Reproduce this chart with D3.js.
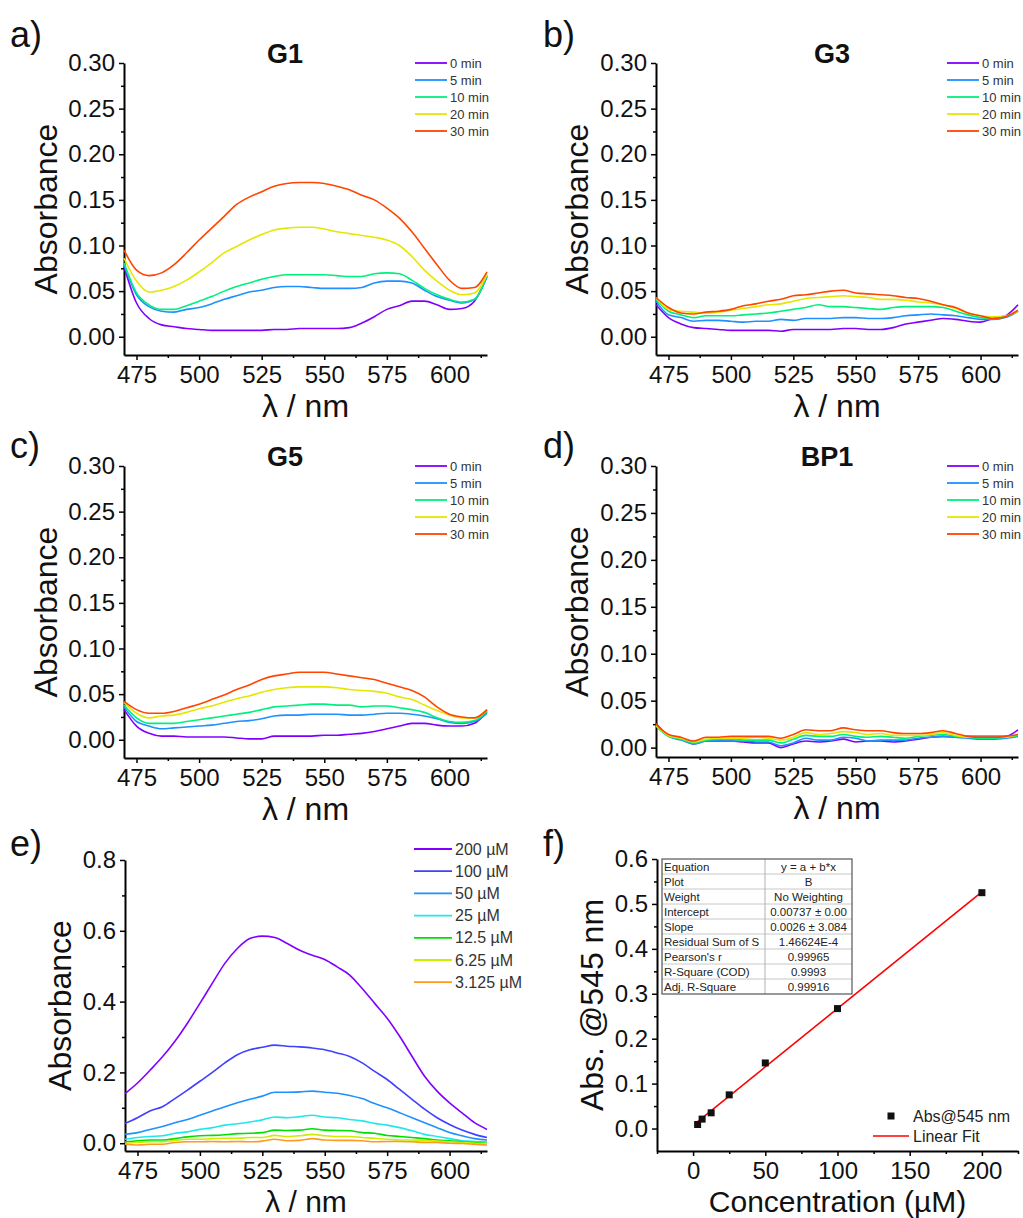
<!DOCTYPE html>
<html>
<head>
<meta charset="utf-8">
<script src="https://cdn.jsdelivr.net/npm/d3@7"></script>
<style>
	body { margin: 0; background: #fff; }
	svg { font-family: "Liberation Sans", Arial, sans-serif; }
	.axis path, .axis line { stroke: #000; }
	.axis text { fill: #111; }
</style>
</head>
<body>
<svg id="chart" width="1023" height="1218"></svg>
<script>
// wavelength grid (nm) shared by all spectra
const wavelengths = [470, 475, 480, 485, 490, 495, 500, 505, 510, 515, 520, 525, 530, 535, 540, 545, 550, 555, 560, 565, 570, 575, 580, 585, 590, 595, 600, 605, 610, 615];

const timeLabels = ["0 min", "5 min", "10 min", "20 min", "30 min"];
const timeColors = ["#8000ff", "#1e90ff", "#00f07c", "#e6e600", "#ff4500"];

// G1
const g1_0 = [0.077, 0.037, 0.020, 0.013, 0.011, 0.009, 0.008, 0.007, 0.007, 0.007, 0.007, 0.007, 0.008, 0.008, 0.009, 0.009, 0.009, 0.009, 0.010, 0.015, 0.022, 0.030, 0.034, 0.039, 0.039, 0.035, 0.030, 0.031, 0.039, 0.066];
const g1_5 = [0.079, 0.046, 0.033, 0.028, 0.027, 0.030, 0.032, 0.036, 0.041, 0.045, 0.049, 0.051, 0.054, 0.055, 0.055, 0.054, 0.053, 0.053, 0.053, 0.054, 0.059, 0.061, 0.061, 0.059, 0.051, 0.044, 0.040, 0.037, 0.041, 0.066];
const g1_10 = [0.081, 0.048, 0.035, 0.030, 0.030, 0.034, 0.039, 0.044, 0.050, 0.055, 0.059, 0.063, 0.066, 0.068, 0.068, 0.068, 0.068, 0.067, 0.066, 0.066, 0.069, 0.070, 0.069, 0.062, 0.053, 0.046, 0.041, 0.038, 0.041, 0.068];
const g1_20 = [0.086, 0.061, 0.049, 0.051, 0.055, 0.062, 0.071, 0.081, 0.092, 0.099, 0.106, 0.112, 0.117, 0.119, 0.120, 0.120, 0.118, 0.115, 0.113, 0.111, 0.109, 0.106, 0.100, 0.088, 0.073, 0.061, 0.051, 0.046, 0.048, 0.068];
const g1_30 = [0.095, 0.073, 0.067, 0.070, 0.079, 0.092, 0.106, 0.119, 0.132, 0.145, 0.153, 0.159, 0.165, 0.168, 0.169, 0.169, 0.168, 0.165, 0.161, 0.155, 0.150, 0.141, 0.130, 0.115, 0.097, 0.079, 0.062, 0.053, 0.054, 0.071];

// G3
const g3_0 = [0.035, 0.021, 0.014, 0.010, 0.009, 0.008, 0.007, 0.007, 0.007, 0.007, 0.006, 0.008, 0.008, 0.008, 0.008, 0.009, 0.009, 0.008, 0.008, 0.010, 0.014, 0.016, 0.018, 0.020, 0.019, 0.017, 0.016, 0.020, 0.023, 0.035];
const g3_5 = [0.039, 0.024, 0.021, 0.017, 0.018, 0.018, 0.017, 0.016, 0.017, 0.017, 0.019, 0.018, 0.020, 0.020, 0.020, 0.021, 0.021, 0.020, 0.020, 0.021, 0.023, 0.024, 0.025, 0.024, 0.023, 0.021, 0.019, 0.019, 0.021, 0.028];
const g3_10 = [0.041, 0.028, 0.024, 0.021, 0.023, 0.023, 0.023, 0.024, 0.025, 0.026, 0.028, 0.030, 0.032, 0.035, 0.033, 0.033, 0.032, 0.031, 0.030, 0.032, 0.033, 0.033, 0.033, 0.032, 0.028, 0.024, 0.021, 0.020, 0.022, 0.028];
const g3_20 = [0.043, 0.030, 0.028, 0.027, 0.026, 0.027, 0.029, 0.031, 0.033, 0.035, 0.036, 0.039, 0.042, 0.043, 0.044, 0.045, 0.044, 0.043, 0.041, 0.041, 0.040, 0.038, 0.037, 0.035, 0.031, 0.026, 0.023, 0.022, 0.023, 0.028];
const g3_30 = [0.043, 0.032, 0.026, 0.025, 0.027, 0.028, 0.030, 0.034, 0.036, 0.039, 0.041, 0.045, 0.046, 0.048, 0.050, 0.051, 0.048, 0.047, 0.046, 0.045, 0.043, 0.042, 0.039, 0.035, 0.032, 0.026, 0.023, 0.020, 0.022, 0.029];

// G5
const g5_0 = [0.033, 0.015, 0.007, 0.004, 0.004, 0.003, 0.003, 0.003, 0.003, 0.002, 0.001, 0.001, 0.004, 0.004, 0.004, 0.004, 0.005, 0.005, 0.006, 0.007, 0.009, 0.012, 0.015, 0.018, 0.018, 0.016, 0.015, 0.015, 0.018, 0.031];
const g5_5 = [0.036, 0.020, 0.015, 0.012, 0.013, 0.014, 0.015, 0.016, 0.018, 0.020, 0.021, 0.023, 0.026, 0.027, 0.027, 0.028, 0.028, 0.028, 0.027, 0.027, 0.028, 0.029, 0.029, 0.028, 0.026, 0.023, 0.019, 0.018, 0.020, 0.029];
const g5_10 = [0.038, 0.024, 0.018, 0.018, 0.018, 0.020, 0.022, 0.024, 0.026, 0.028, 0.030, 0.033, 0.036, 0.037, 0.038, 0.039, 0.039, 0.038, 0.038, 0.036, 0.037, 0.037, 0.035, 0.033, 0.030, 0.024, 0.020, 0.019, 0.021, 0.031];
const g5_20 = [0.041, 0.029, 0.024, 0.026, 0.027, 0.030, 0.034, 0.037, 0.041, 0.045, 0.048, 0.052, 0.055, 0.057, 0.058, 0.058, 0.058, 0.057, 0.055, 0.054, 0.053, 0.051, 0.047, 0.044, 0.038, 0.032, 0.027, 0.024, 0.024, 0.033];
const g5_30 = [0.042, 0.033, 0.029, 0.029, 0.031, 0.035, 0.039, 0.044, 0.049, 0.055, 0.060, 0.066, 0.070, 0.072, 0.074, 0.074, 0.074, 0.072, 0.070, 0.068, 0.066, 0.062, 0.058, 0.054, 0.047, 0.036, 0.028, 0.025, 0.024, 0.033];

// BP1
const bp1_0 = [0.026, 0.013, 0.010, 0.004, 0.007, 0.007, 0.007, 0.006, 0.005, 0.005, 0.000, 0.004, 0.007, 0.006, 0.007, 0.009, 0.006, 0.007, 0.007, 0.006, 0.007, 0.009, 0.011, 0.012, 0.011, 0.012, 0.012, 0.012, 0.012, 0.019];
const bp1_5 = [0.023, 0.012, 0.008, 0.004, 0.007, 0.008, 0.007, 0.007, 0.006, 0.006, 0.002, 0.005, 0.010, 0.008, 0.008, 0.011, 0.010, 0.007, 0.008, 0.008, 0.008, 0.010, 0.011, 0.012, 0.011, 0.010, 0.009, 0.009, 0.010, 0.012];
const bp1_10 = [0.023, 0.012, 0.009, 0.005, 0.008, 0.009, 0.009, 0.008, 0.008, 0.008, 0.005, 0.009, 0.013, 0.012, 0.012, 0.014, 0.012, 0.011, 0.012, 0.011, 0.010, 0.012, 0.013, 0.014, 0.012, 0.011, 0.010, 0.010, 0.011, 0.013];
const bp1_20 = [0.024, 0.013, 0.010, 0.006, 0.009, 0.010, 0.010, 0.010, 0.011, 0.010, 0.008, 0.011, 0.016, 0.014, 0.015, 0.017, 0.016, 0.014, 0.015, 0.013, 0.013, 0.013, 0.014, 0.016, 0.013, 0.011, 0.011, 0.011, 0.011, 0.014];
const bp1_30 = [0.025, 0.014, 0.011, 0.007, 0.011, 0.011, 0.012, 0.012, 0.012, 0.012, 0.010, 0.014, 0.019, 0.018, 0.018, 0.021, 0.019, 0.018, 0.018, 0.016, 0.015, 0.015, 0.016, 0.018, 0.015, 0.012, 0.011, 0.011, 0.012, 0.014];

// concentration series (panel e)
const concLabels = ["200 \u00b5M", "100 \u00b5M", "50 \u00b5M", "25 \u00b5M", "12.5 \u00b5M", "6.25 \u00b5M", "3.125 \u00b5M"];
const concColors = ["#8000ff", "#4040ff", "#1e90ff", "#20e8e8", "#00e000", "#ccee00", "#ff9922"];
const c200 = [0.140, 0.170, 0.206, 0.244, 0.288, 0.339, 0.395, 0.452, 0.508, 0.550, 0.578, 0.585, 0.581, 0.564, 0.545, 0.531, 0.519, 0.498, 0.475, 0.437, 0.395, 0.353, 0.302, 0.245, 0.189, 0.147, 0.114, 0.086, 0.058, 0.039];
const c100 = [0.056, 0.072, 0.091, 0.103, 0.126, 0.150, 0.175, 0.200, 0.227, 0.250, 0.264, 0.271, 0.277, 0.274, 0.272, 0.269, 0.264, 0.255, 0.245, 0.227, 0.203, 0.180, 0.152, 0.124, 0.096, 0.072, 0.053, 0.037, 0.025, 0.016];
const c50 = [0.025, 0.030, 0.039, 0.047, 0.058, 0.067, 0.079, 0.091, 0.103, 0.114, 0.124, 0.133, 0.144, 0.144, 0.145, 0.147, 0.144, 0.141, 0.135, 0.126, 0.112, 0.100, 0.086, 0.072, 0.058, 0.044, 0.030, 0.021, 0.013, 0.009];
const c25 = [0.011, 0.016, 0.019, 0.021, 0.028, 0.032, 0.039, 0.044, 0.051, 0.055, 0.060, 0.066, 0.074, 0.072, 0.075, 0.079, 0.074, 0.072, 0.067, 0.063, 0.056, 0.051, 0.044, 0.035, 0.025, 0.019, 0.013, 0.007, 0.005, 0.004];
const c12 = [0.004, 0.007, 0.009, 0.009, 0.013, 0.018, 0.021, 0.022, 0.024, 0.027, 0.028, 0.030, 0.037, 0.036, 0.037, 0.041, 0.037, 0.036, 0.035, 0.030, 0.028, 0.022, 0.019, 0.016, 0.013, 0.009, 0.007, 0.004, 0.002, 0.000];
const c6 = [0.000, 0.002, 0.004, 0.004, 0.008, 0.011, 0.011, 0.013, 0.014, 0.014, 0.016, 0.016, 0.022, 0.019, 0.021, 0.025, 0.021, 0.019, 0.019, 0.016, 0.014, 0.011, 0.009, 0.009, 0.007, 0.006, 0.004, 0.002, 0.000, -0.001];
const c3 = [-0.003, -0.005, -0.003, -0.003, 0.002, 0.004, 0.004, 0.005, 0.004, 0.005, 0.004, 0.006, 0.011, 0.007, 0.008, 0.013, 0.009, 0.008, 0.008, 0.007, 0.004, 0.005, 0.005, 0.004, 0.002, 0.002, 0.000, -0.001, -0.003, -0.005];

// calibration (panel f)
const calibConc = [3.125, 6.25, 12.5, 25, 50, 100, 200];
const calibAbs = [0.009, 0.021, 0.035, 0.075, 0.146, 0.267, 0.525];
const fitConc = [3.125, 200];
const fitAbs = [0.0155, 0.527];
const fitTableKeys = ["Equation", "Plot", "Weight", "Intercept", "Slope", "Residual Sum of S", "Pearson's r", "R-Square (COD)", "Adj. R-Square"];
const fitTableValues = ["y = a + b*x", "B", "No Weighting", "0.00737 \u00b1 0.00", "0.0026 \u00b1 3.084", "1.46624E-4", "0.99965", "0.9993", "0.99916"];

// tick values
const wlTicks = [475, 500, 525, 550, 575, 600];
const wlMinor = [487.5, 512.5, 537.5, 562.5, 587.5, 612.5];
const absTicks = [0, 0.05, 0.10, 0.15, 0.20, 0.25, 0.30];
const absMinor = [0.025, 0.075, 0.125, 0.175, 0.225, 0.275];
const absTicksE = [0, 0.2, 0.4, 0.6, 0.8];
const absMinorE = [0.1, 0.3, 0.5, 0.7];
const concTicks = [0, 50, 100, 150, 200];
const concMinor = [-25, 25, 75, 125, 175, 225];
const calTicks = [0, 0.1, 0.2, 0.3, 0.4, 0.5, 0.6];
const calMinor = [0.05, 0.15, 0.25, 0.35, 0.45, 0.55];

const svg = d3.select("#chart");

function drawAxes(g, x, y, o) {
	// minor ticks first, then the major axis on top
	g.append("g")
		.attr("class", "axis")
		.attr("transform", `translate(0,${o.bottom})`)
		.call(d3.axisBottom(x).tickValues(o.xMinor).tickSize(3).tickSizeOuter(0).tickFormat(""))
		.call((a) => a.select(".domain").remove())
		.selectAll("line").attr("stroke-width", 1.5);
	g.append("g")
		.attr("class", "axis")
		.attr("transform", `translate(${o.left},0)`)
		.call(d3.axisLeft(y).tickValues(o.yMinor).tickSize(3).tickSizeOuter(0).tickFormat(""))
		.call((a) => a.select(".domain").remove())
		.selectAll("line").attr("stroke-width", 1.5);

	const xAxis = g.append("g")
		.attr("class", "axis")
		.attr("transform", `translate(0,${o.bottom})`)
		.call(d3.axisBottom(x).tickValues(o.xTicks).tickSize(5).tickSizeOuter(0).tickPadding(6).tickFormat(o.xFormat));
	xAxis.select(".domain").attr("stroke-width", 2);
	xAxis.selectAll("line").attr("stroke-width", 1.5);
	xAxis.selectAll("text").attr("font-size", 24).attr("font-family", "Liberation Sans, Arial, sans-serif");

	const yAxis = g.append("g")
		.attr("class", "axis")
		.attr("transform", `translate(${o.left},0)`)
		.call(d3.axisLeft(y).tickValues(o.yTicks).tickSize(5).tickSizeOuter(0).tickPadding(4).tickFormat(o.yFormat));
	yAxis.select(".domain").attr("stroke-width", 2);
	yAxis.selectAll("line").attr("stroke-width", 1.5);
	yAxis.selectAll("text").attr("font-size", 24).attr("font-family", "Liberation Sans, Arial, sans-serif");

	// axis titles
	g.append("text")
		.attr("x", (o.left + o.right) / 2)
		.attr("y", o.bottom + (o.xTitleDy || 62))
		.attr("text-anchor", "middle")
		.attr("font-size", o.xTitleSize || 32)
		.attr("fill", "#111")
		.text(o.xTitle);
	g.append("text")
		.attr("transform", `translate(${o.yTitleX},${(o.top + o.bottom) / 2}) rotate(-90)`)
		.attr("text-anchor", "middle")
		.attr("font-size", 32)
		.attr("fill", "#111")
		.text(o.yTitle);

	// panel letter
	g.append("text")
		.attr("x", o.letterX)
		.attr("y", o.letterY)
		.attr("font-size", 36)
		.attr("fill", "#111")
		.text(o.letter);
}

function drawSpectra(o) {
	const g = svg.append("g");
	const x = d3.scaleLinear().domain(o.xDomain).range([o.left, o.right]);
	const y = d3.scaleLinear().domain(o.yDomain).range([o.bottom, o.top]);

	drawAxes(g, x, y, o);

	const line = d3.line()
		.x((d, i) => x(wavelengths[i]))
		.y((d) => y(d))
		.curve(d3.curveMonotoneX);

	g.append("g")
		.selectAll("path")
		.data(o.series)
		.join("path")
		.attr("fill", "none")
		.attr("stroke", (d, i) => o.colors[i])
		.attr("stroke-width", 1.6)
		.attr("d", line);

	if (o.title) {
		g.append("text")
			.attr("x", o.titleX)
			.attr("y", o.top)
			.attr("text-anchor", "middle")
			.attr("font-size", 27)
			.attr("font-weight", "bold")
			.attr("fill", "#111")
			.text(o.title);
	}

	// legend
	const leg = g.append("g")
		.selectAll("g")
		.data(o.labels)
		.join("g")
		.attr("transform", (d, i) => `translate(${o.legendX},${o.legendY + i * o.legendStep})`);
	leg.append("line")
		.attr("x1", 0)
		.attr("x2", o.legendLen)
		.attr("stroke", (d, i) => o.colors[i])
		.attr("stroke-width", 1.8);
	leg.append("text")
		.attr("x", o.legendLen + 3)
		.attr("dy", "0.35em")
		.attr("font-size", o.legendFont)
		.attr("fill", "#333")
		.text((d) => d);
}

const spectraPanels = [
	{ letter: "a)", letterX: 10, letterY: 47, title: "G1", titleX: 285, series: [g1_0, g1_5, g1_10, g1_20, g1_30],
		left: 124, right: 487, top: 63, bottom: 355, yDomain: [-0.02, 0.30], yTitleX: 57, legendX: 415, legendY: 63 },
	{ letter: "b)", letterX: 543, letterY: 47, title: "G3", titleX: 832, series: [g3_0, g3_5, g3_10, g3_20, g3_30],
		left: 656, right: 1018, top: 63, bottom: 355, yDomain: [-0.02, 0.30], yTitleX: 588, legendX: 947, legendY: 63 },
	{ letter: "c)", letterX: 10, letterY: 458, title: "G5", titleX: 285, series: [g5_0, g5_5, g5_10, g5_20, g5_30],
		left: 124, right: 487, top: 466, bottom: 758, yDomain: [-0.02, 0.30], yTitleX: 57, legendX: 415, legendY: 466 },
	{ letter: "d)", letterX: 543, letterY: 458, title: "BP1", titleX: 827, series: [bp1_0, bp1_5, bp1_10, bp1_20, bp1_30],
		left: 656, right: 1018, top: 466, bottom: 757, yDomain: [-0.01, 0.30], yTitleX: 588, legendX: 947, legendY: 466 },
];

spectraPanels.forEach((p) => {
	drawSpectra(Object.assign({
		xDomain: [470, 615], xTicks: wlTicks, xMinor: wlMinor, xFormat: d3.format("d"),
		yTicks: absTicks, yMinor: absMinor, yFormat: d3.format(".2f"),
		xTitle: "\u03bb / nm", yTitle: "Absorbance",
		colors: timeColors, labels: timeLabels,
		legendLen: 32, legendStep: 17, legendFont: 13,
	}, p));
});

// panel e
drawSpectra({
	letter: "e)", letterX: 10, letterY: 856,
	series: [c200, c100, c50, c25, c12, c6, c3], colors: concColors, labels: concLabels,
	left: 125, right: 487, top: 860, bottom: 1151,
	xDomain: [470, 615], xTicks: wlTicks, xMinor: wlMinor, xFormat: d3.format("d"),
	yDomain: [-0.022, 0.8], yTicks: absTicksE, yMinor: absMinorE, yFormat: d3.format(".1f"),
	xTitle: "\u03bb / nm", yTitle: "Absorbance", yTitleX: 71, xTitleDy: 60.5, xTitleSize: 30,
	legendX: 414, legendY: 849, legendLen: 38, legendStep: 22.2, legendFont: 16,
});

// panel f: calibration
(function () {
	const o = {
		letter: "f)", letterX: 543, letterY: 856,
		left: 657, right: 1018, top: 859, bottom: 1151,
		xTicks: concTicks, xMinor: concMinor, xFormat: d3.format("d"),
		yTicks: calTicks, yMinor: calMinor, yFormat: d3.format(".1f"),
		xTitle: "Concentration (\u00b5M)", yTitle: "Abs. @545 nm", yTitleX: 603, xTitleDy: 60.5, xTitleSize: 30,
	};
	const g = svg.append("g");
	const x = d3.scaleLinear().domain([-25, 225]).range([o.left, o.right]);
	const y = d3.scaleLinear().domain([-0.05, 0.6]).range([o.bottom, o.top]);
	drawAxes(g, x, y, o);

	g.append("path")
		.datum(fitConc)
		.attr("fill", "none")
		.attr("stroke", "#ff0000")
		.attr("stroke-width", 1.6)
		.attr("d", d3.line().x((d) => x(d)).y((d, i) => y(fitAbs[i])));

	g.append("g")
		.selectAll("rect")
		.data(calibConc)
		.join("rect")
		.attr("x", (d) => x(d) - 3.5)
		.attr("y", (d, i) => y(calibAbs[i]) - 3.5)
		.attr("width", 7)
		.attr("height", 7)
		.attr("fill", "#111");

	// fit results table
	const tX = 662, tY = 859, colW = [103, 87], rowH = 15;
	const tbl = g.append("g");
	tbl.append("rect")
		.attr("x", tX).attr("y", tY)
		.attr("width", colW[0] + colW[1]).attr("height", rowH * fitTableKeys.length)
		.attr("fill", "#fff");
	fitTableKeys.forEach((k, i) => {
		if (i > 0) {
			tbl.append("line")
				.attr("x1", tX).attr("x2", tX + colW[0] + colW[1])
				.attr("y1", tY + i * rowH).attr("y2", tY + i * rowH)
				.attr("stroke", "#c8c8c8").attr("stroke-width", 1);
		}
		tbl.append("text")
			.attr("x", tX + 2).attr("y", tY + i * rowH + 11.5)
			.attr("font-size", 11.5).attr("fill", "#222")
			.text(k);
		tbl.append("text")
			.attr("x", tX + colW[0] + colW[1] / 2).attr("y", tY + i * rowH + 11.5)
			.attr("text-anchor", "middle")
			.attr("font-size", 11.5).attr("fill", "#222")
			.text(fitTableValues[i]);
	});
	tbl.append("line")
		.attr("x1", tX + colW[0]).attr("x2", tX + colW[0])
		.attr("y1", tY).attr("y2", tY + rowH * fitTableKeys.length)
		.attr("stroke", "#b0b0b0");
	tbl.append("rect")
		.attr("x", tX).attr("y", tY)
		.attr("width", colW[0] + colW[1]).attr("height", rowH * fitTableKeys.length)
		.attr("fill", "none").attr("stroke", "#555").attr("stroke-width", 1.2);

	// legend
	g.append("rect").attr("x", 887.5).attr("y", 1112.5).attr("width", 7).attr("height", 7).attr("fill", "#111");
	g.append("text").attr("x", 913).attr("y", 1116).attr("dy", "0.35em").attr("font-size", 16).attr("fill", "#222").text("Abs@545 nm");
	g.append("line").attr("x1", 873).attr("x2", 909).attr("y1", 1136).attr("y2", 1136).attr("stroke", "#ff0000").attr("stroke-width", 1.6);
	g.append("text").attr("x", 913).attr("y", 1136).attr("dy", "0.35em").attr("font-size", 16).attr("fill", "#222").text("Linear Fit");
})();
</script>
</body>
</html>
